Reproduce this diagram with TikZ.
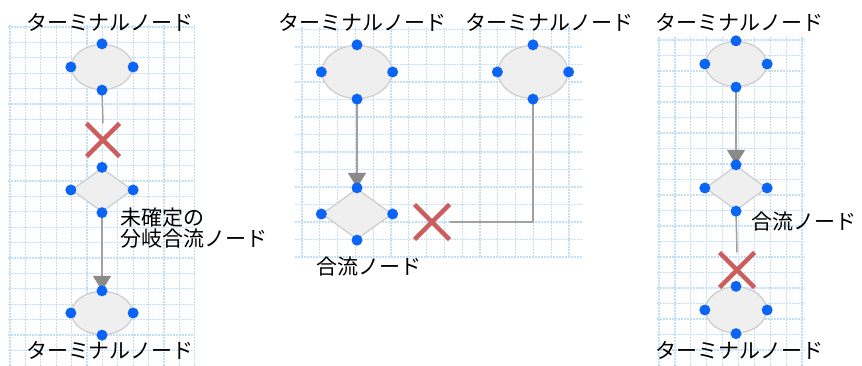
\documentclass[tikz,border=0pt]{standalone}
\usepackage{fontspec}
\setmainfont{Noto Sans CJK JP}
\usetikzlibrary{arrows.meta,shapes.geometric,shapes.misc}
\definecolor{gridblue}{HTML}{C3DFF6}
\definecolor{nodefill}{HTML}{EFEFEF}
\definecolor{nodeline}{HTML}{CFCFCF}
\definecolor{handleblue}{HTML}{0A64F5}
\definecolor{crossred}{HTML}{CD5C5C}
\definecolor{wiregray}{HTML}{A0A0A0}
\definecolor{tipgray}{HTML}{8A8A8A}
\tikzset{
  every picture/.style={line join=round, >=Stealth},
  gridline/.style={gridblue, line width=1.3pt, dash pattern=on 1.6pt off 1.4pt},
  terminal/.style={ellipse, draw=nodeline, fill=nodefill, line width=1.3pt, inner sep=0pt},
  junction/.style={diamond, draw=nodeline, fill=nodefill, line width=1.3pt, inner sep=0pt},
  ng/.style={cross out, draw=crossred, line width=4.5pt, minimum size=#1, inner sep=0pt, outer sep=0pt},
  wire/.style={wiregray, line width=1.5pt},
  flow/.style={wire, -{Triangle[width=18pt,length=15pt,color=tipgray]}},
  lbl/.style={font=\fontsize{21}{21.5}\selectfont, inner sep=0pt},
}
\newcommand{\handles}[1]{\foreach \a in {north,south,east,west} \fill[handleblue] (#1.\a) circle[radius=5.5pt];}

\begin{document}
\begin{tikzpicture}[x=1pt,y=-1pt]
\useasboundingbox (0,0) rectangle (862,366);
% grids
\foreach \i in {0,...,12} \draw[gridline] ({10+15.4*\i},25)--({10+15.4*\i},366);
\foreach \i in {0,...,21} \draw[gridline] (8,{27+15.4*\i})--(195,{27+15.4*\i});
\foreach \i in {0,...,15} \draw[gridline] ({302+17.8*\i},27)--({302+17.8*\i},258);
\foreach \i in {0,...,13} \draw[gridline] (295,{29.5+17.5*\i})--(583,{29.5+17.5*\i});
\foreach \i in {0,...,9} \draw[gridline] ({659+15.9*\i},37)--({659+15.9*\i},366);
\foreach \i in {0,...,20} \draw[gridline] (657,{40+15.5*\i})--(805,{40+15.5*\i});
% left
\node[terminal,minimum width=61pt,minimum height=45pt] (t1) at (102,67) {};
\node[junction,minimum width=61pt,minimum height=44pt] (d1) at (102,190) {};
\node[terminal,minimum width=61pt,minimum height=43pt] (t2) at (102,313) {};
\node[ng=33pt] (x1) at (103,140) {};
\draw[wire] (t1.south)--(x1.north);
\draw[flow] (d1.south)--(t2.north);
\node[lbl] (t1lbl) at (110,22) {ターミナルノード};
\node[lbl] (t2lbl) at (110,350) {ターミナルノード};
\node[lbl,anchor=west,align=left] (d1lbl) at (120,228) {未確定の\\分岐合流ノード};
% middle
\node[terminal,minimum width=70pt,minimum height=53pt] (t3) at (357,72) {};
\node[terminal,minimum width=70pt,minimum height=53pt] (t4) at (533,72) {};
\node[junction,minimum width=70pt,minimum height=51pt] (d2) at (357,214) {};
\node[ng=35pt] (x2) at (432,222) {};
\draw[flow] (t3.south)--(d2.north);
\draw[wire] (t4.south)|-(x2.east);
\node[lbl] (t3lbl) at (362.5,22) {ターミナルノード};
\node[lbl] (t4lbl) at (549.5,22) {ターミナルノード};
\node[lbl] (d2lbl) at (368.5,267) {合流ノード};
% right
\node[terminal,minimum width=61pt,minimum height=45pt] (t5) at (736,64) {};
\node[junction,minimum width=61pt,minimum height=45pt] (d3) at (736,188) {};
\node[terminal,minimum width=61pt,minimum height=46pt] (t6) at (736,310) {};
\node[ng=35pt] (x3) at (737,270) {};
\draw[flow] (t5.south)--(d3.north);
\draw[wire] (d3.south)--(x3.north);
\node[lbl] (t5lbl) at (739,22) {ターミナルノード};
\node[lbl] (t6lbl) at (739,350) {ターミナルノード};
\node[lbl] (d3lbl) at (804,222) {合流ノード};
% handles
\handles{t1}\handles{d1}\handles{t2}
\handles{t3}\handles{t4}\handles{d2}
\handles{t5}\handles{d3}\handles{t6}
\end{tikzpicture}
\end{document}
